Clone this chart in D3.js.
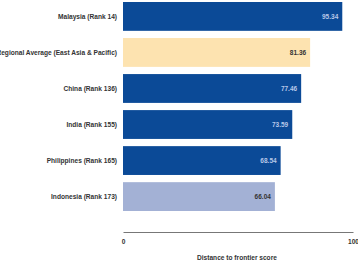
<!DOCTYPE html>
<html lang="en">
<head>
  <meta charset="UTF-8">
  <title>Distance to frontier score</title>
  <script src="https://cdnjs.cloudflare.com/ajax/libs/d3/7.8.5/d3.min.js"></script>
  <style>
    body { margin: 0; background: #fff; }
    text { font-family: "Liberation Sans", Arial, sans-serif; }
  </style>
</head>
<body>
  <div id="chart"></div>
  <script>
    // data
    const categories = ["Malaysia (Rank 14)", "Regional Average (East Asia & Pacific)", "China (Rank 136)",
                        "India (Rank 155)", "Philippines (Rank 165)", "Indonesia (Rank 173)"];
    const values = [95.34, 81.36, 77.46, 73.59, 68.54, 66.04];
    const barColors = ["#0b4a97", "#fde3b0", "#0b4a97", "#0b4a97", "#0b4a97", "#a3b1d5"];
    const labelColors = ["#b8c8e8", "#333", "#b8c8e8", "#b8c8e8", "#b8c8e8", "#333"];
    const tickValues = [0, 100];

    const W = 358, H = 264;
    const margin = {left: 123};

    const svg = d3.select("#chart").append("svg")
      .attr("width", W).attr("height", H);

    const x = d3.scaleLinear().domain([0, 100]).range([margin.left, 353]);
    const y = d3.scaleBand().domain(categories).range([2, 211]).paddingInner(0.2).paddingOuter(0);

    svg.selectAll("rect.bar")
      .data(values)
      .enter().append("rect")
      .attr("class", "bar")
      .attr("x", x(0))
      .attr("y", (d, i) => y(categories[i]))
      .attr("width", d => x(d) - x(0))
      .attr("height", y.bandwidth())
      .attr("fill", (d, i) => barColors[i]);

    // value labels inside bars
    svg.selectAll("text.val")
      .data(values)
      .enter().append("text")
      .attr("class", "val")
      .attr("x", d => x(d) - 4)
      .attr("y", (d, i) => y(categories[i]) + y.bandwidth() / 2)
      .attr("dy", "0.35em")
      .attr("text-anchor", "end")
      .attr("font-size", 6.5)
      .attr("font-weight", "bold")
      .attr("fill", (d, i) => labelColors[i])
      .text(d => d.toFixed(2));

    // category labels
    svg.selectAll("text.cat")
      .data(categories)
      .enter().append("text")
      .attr("class", "cat")
      .attr("x", margin.left - 6)
      .attr("y", d => y(d) + y.bandwidth() / 2)
      .attr("dy", "0.35em")
      .attr("text-anchor", "end")
      .attr("font-size", 6.6)
      .attr("font-weight", "bold")
      .attr("fill", "#333")
      .text(d => d);

    // x axis
    const axis = svg.append("g")
      .attr("transform", "translate(0,232)")
      .call(d3.axisBottom(x).tickValues(tickValues).tickSize(0).tickPadding(7));
    axis.select(".domain").attr("stroke", "#777").attr("stroke-width", 1.2);
    axis.selectAll("text")
      .attr("font-family", "Liberation Sans, Arial, sans-serif")
      .attr("font-size", 6.6)
      .attr("font-weight", "bold")
      .attr("fill", "#333");

    svg.append("text")
      .attr("x", 197)
      .attr("y", 260)
      .attr("font-size", 6.6)
      .attr("font-weight", "bold")
      .attr("fill", "#333")
      .text("Distance to frontier score");
  </script>
</body>
</html>
